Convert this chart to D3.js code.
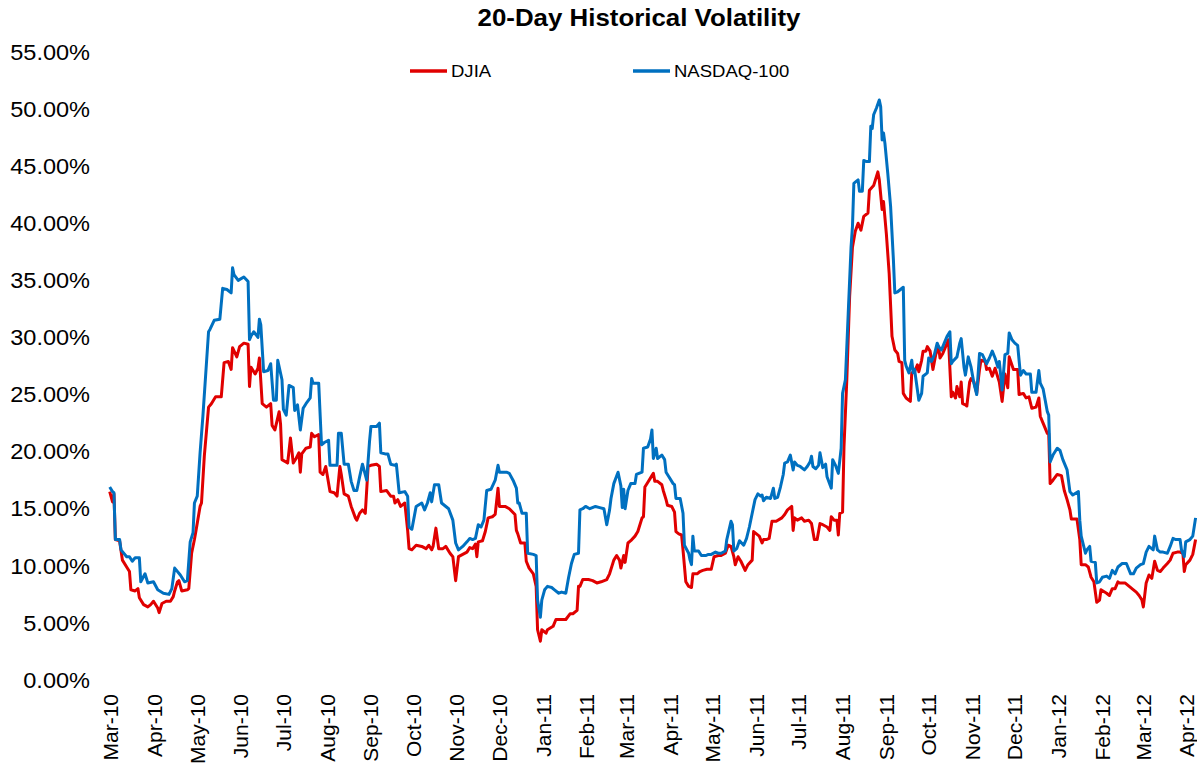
<!DOCTYPE html>
<html>
<head>
<meta charset="utf-8">
<script src="https://cdn.jsdelivr.net/npm/d3@7"></script>
<style>
  body { margin: 0; background: #fff; }
  text { font-family: "Liberation Sans", Arial, sans-serif; fill: #000; }
</style>
</head>
<body>
<svg id="chart" width="1197" height="770"></svg>
<script>
// 20-day historical volatility, in percent
const djia = [
  ["2010-02-28",16.5],["2010-03-02",15.6],["2010-03-03",16.3],["2010-03-04",12.3],["2010-03-07",12.2],["2010-03-09",10.5],
  ["2010-03-12",9.9],["2010-03-14",9.5],["2010-03-15",7.9],["2010-03-18",7.8],["2010-03-20",8.0],["2010-03-21",7.2],
  ["2010-03-24",6.6],["2010-03-27",6.4],["2010-03-29",6.6],["2010-03-31",6.9],["2010-04-03",6.3],["2010-04-04",5.9],
  ["2010-04-06",6.7],["2010-04-09",6.9],["2010-04-12",6.9],["2010-04-14",7.3],["2010-04-15",7.8],["2010-04-17",8.6],
  ["2010-04-18",8.7],["2010-04-20",7.8],["2010-04-24",7.9],["2010-04-25",8.0],["2010-04-27",11.1],["2010-04-29",12.3],
  ["2010-04-30",13.0],["2010-05-03",15.2],["2010-05-04",15.5],["2010-05-06",19.6],["2010-05-09",23.9],["2010-05-11",24.2],
  ["2010-05-14",24.8],["2010-05-18",24.8],["2010-05-20",27.8],["2010-05-23",27.9],["2010-05-25",27.2],["2010-05-26",29.1],
  ["2010-05-29",28.3],["2010-05-31",29.2],["2010-06-03",29.5],["2010-06-06",29.4],["2010-06-07",25.7],["2010-06-08",27.4],
  ["2010-06-11",26.8],["2010-06-13",27.3],["2010-06-14",28.2],["2010-06-16",24.2],["2010-06-19",23.9],["2010-06-22",24.2],
  ["2010-06-23",22.3],["2010-06-25",21.9],["2010-06-28",23.5],["2010-06-29",22.4],["2010-06-30",19.3],["2010-07-04",19.0],
  ["2010-07-06",21.2],["2010-07-08",19.0],["2010-07-10",19.4],["2010-07-12",19.9],["2010-07-13",18.2],["2010-07-14",19.8],
  ["2010-07-17",20.3],["2010-07-20",20.4],["2010-07-21",21.6],["2010-07-23",21.3],["2010-07-26",21.5],["2010-07-27",18.2],
  ["2010-07-29",18.0],["2010-07-31",18.7],["2010-08-03",16.5],["2010-08-06",16.4],["2010-08-08",16.1],["2010-08-10",18.7],
  ["2010-08-11",18.0],["2010-08-13",16.3],["2010-08-16",16.1],["2010-08-18",15.2],["2010-08-21",14.2],["2010-08-22",14.0],
  ["2010-08-24",14.6],["2010-08-26",14.9],["2010-08-28",14.6],["2010-08-30",18.7],["2010-09-01",18.8],["2010-09-05",18.9],
  ["2010-09-07",18.7],["2010-09-08",16.5],["2010-09-12",16.6],["2010-09-15",16.1],["2010-09-17",16.1],["2010-09-18",15.5],
  ["2010-09-20",15.8],["2010-09-22",15.2],["2010-09-25",15.5],["2010-09-27",13.1],["2010-09-28",11.5],["2010-09-30",11.4],
  ["2010-10-03",11.8],["2010-10-07",11.7],["2010-10-10",11.5],["2010-10-12",11.8],["2010-10-14",11.4],["2010-10-15",11.7],
  ["2010-10-17",13.3],["2010-10-19",11.5],["2010-10-22",11.5],["2010-10-24",11.7],["2010-10-27",11.1],["2010-10-29",10.8],
  ["2010-10-31",8.7],["2010-11-02",10.8],["2010-11-05",11.0],["2010-11-08",11.2],["2010-11-10",11.6],["2010-11-12",11.5],
  ["2010-11-14",11.9],["2010-11-15",10.8],["2010-11-16",12.1],["2010-11-19",12.2],["2010-11-21",13.0],["2010-11-23",14.2],
  ["2010-11-26",14.3],["2010-11-28",14.5],["2010-11-30",16.8],["2010-12-01",15.2],["2010-12-05",15.2],["2010-12-08",15.0],
  ["2010-12-12",14.5],["2010-12-13",13.1],["2010-12-14",12.8],["2010-12-16",12.0],["2010-12-19",12.0],["2010-12-20",10.4],
  ["2010-12-22",9.8],["2010-12-25",9.3],["2010-12-27",8.2],["2010-12-28",4.4],["2010-12-30",3.4],["2010-12-31",4.4],
  ["2011-01-03",4.1],["2011-01-04",4.4],["2011-01-08",4.7],["2011-01-10",5.3],["2011-01-14",5.3],["2011-01-17",5.3],
  ["2011-01-20",5.8],["2011-01-22",5.8],["2011-01-25",6.1],["2011-01-26",8.2],["2011-01-27",8.2],["2011-01-29",8.8],
  ["2011-02-02",8.8],["2011-02-05",8.7],["2011-02-08",8.5],["2011-02-11",8.6],["2011-02-15",8.8],["2011-02-17",9.3],
  ["2011-02-20",10.5],["2011-02-22",10.9],["2011-02-24",10.5],["2011-02-25",9.8],["2011-02-27",10.9],["2011-02-28",10.3],
  ["2011-03-02",12.0],["2011-03-04",12.2],["2011-03-07",12.6],["2011-03-09",13.0],["2011-03-12",14.2],["2011-03-13",14.3],
  ["2011-03-14",16.9],["2011-03-16",17.3],["2011-03-19",17.9],["2011-03-20",18.1],["2011-03-21",17.4],["2011-03-23",17.4],
  ["2011-03-26",17.1],["2011-03-27",16.6],["2011-03-29",15.8],["2011-03-30",15.3],["2011-04-02",15.2],["2011-04-04",14.7],
  ["2011-04-05",13.0],["2011-04-07",12.8],["2011-04-09",12.7],["2011-04-10",11.4],["2011-04-12",8.6],["2011-04-14",8.2],
  ["2011-04-16",8.1],["2011-04-17",9.3],["2011-04-20",9.3],["2011-04-22",9.5],["2011-04-24",9.6],["2011-04-27",9.7],
  ["2011-04-30",9.7],["2011-05-02",10.8],["2011-05-05",10.9],["2011-05-07",10.9],["2011-05-10",11.1],["2011-05-12",11.8],
  ["2011-05-14",11.7],["2011-05-16",10.8],["2011-05-17",10.1],["2011-05-19",10.8],["2011-05-21",10.4],["2011-05-24",9.6],
  ["2011-05-26",10.1],["2011-05-29",10.5],["2011-05-30",13.0],["2011-06-01",12.8],["2011-06-03",12.6],["2011-06-05",12.0],
  ["2011-06-06",12.3],["2011-06-08",12.3],["2011-06-10",12.4],["2011-06-12",13.9],["2011-06-15",13.9],["2011-06-19",14.2],
  ["2011-06-21",14.5],["2011-06-23",14.9],["2011-06-26",15.2],["2011-06-27",13.1],["2011-06-28",14.2],["2011-06-30",14.0],
  ["2011-07-03",14.2],["2011-07-05",13.9],["2011-07-08",14.0],["2011-07-10",13.7],["2011-07-12",12.3],["2011-07-14",12.3],
  ["2011-07-16",13.7],["2011-07-18",13.6],["2011-07-21",13.4],["2011-07-23",13.1],["2011-07-24",14.3],["2011-07-26",14.0],
  ["2011-07-28",14.0],["2011-07-29",12.7],["2011-07-30",14.6],["2011-08-01",14.7],["2011-08-02",20.4],["2011-08-04",26.3],
  ["2011-08-06",33.6],["2011-08-08",37.9],["2011-08-10",39.3],["2011-08-12",40.0],["2011-08-14",39.4],["2011-08-16",40.6],
  ["2011-08-19",40.9],["2011-08-20",42.9],["2011-08-23",43.3],["2011-08-25",44.1],["2011-08-26",44.5],["2011-08-27",43.8],
  ["2011-08-29",41.2],["2011-08-30",41.9],["2011-09-01",39.1],["2011-09-03",35.6],["2011-09-05",30.1],["2011-09-07",28.9],
  ["2011-09-09",28.6],["2011-09-10",27.9],["2011-09-12",27.8],["2011-09-13",25.1],["2011-09-15",24.7],["2011-09-18",24.4],
  ["2011-09-19",26.9],["2011-09-21",27.0],["2011-09-23",27.6],["2011-09-24",27.0],["2011-09-26",28.0],["2011-09-27",28.8],
  ["2011-09-29",28.8],["2011-09-30",29.2],["2011-10-02",28.8],["2011-10-04",27.2],["2011-10-06",28.5],["2011-10-08",29.2],
  ["2011-10-09",28.2],["2011-10-11",28.6],["2011-10-14",29.5],["2011-10-15",29.8],["2011-10-17",24.8],["2011-10-18",25.2],
  ["2011-10-20",24.7],["2011-10-21",25.7],["2011-10-23",24.8],["2011-10-24",26.1],["2011-10-25",24.2],["2011-10-27",24.1],
  ["2011-10-28",24.0],["2011-10-30",26.1],["2011-10-31",26.4],["2011-11-02",26.1],["2011-11-04",25.1],["2011-11-06",27.2],
  ["2011-11-07",28.0],["2011-11-10",27.9],["2011-11-11",27.2],["2011-11-13",27.3],["2011-11-15",26.6],["2011-11-17",27.3],
  ["2011-11-18",26.9],["2011-11-20",26.1],["2011-11-22",24.4],["2011-11-24",26.8],["2011-11-26",25.6],["2011-11-27",28.3],
  ["2011-11-30",27.2],["2011-12-03",27.2],["2011-12-04",25.0],["2011-12-07",25.1],["2011-12-09",24.7],["2011-12-11",24.8],
  ["2011-12-13",23.8],["2011-12-16",23.9],["2011-12-18",24.7],["2011-12-19",23.1],["2011-12-21",22.5],["2011-12-24",21.6],
  ["2011-12-25",21.6],["2011-12-26",17.2],["2011-12-28",17.5],["2011-12-31",18.0],["2012-01-03",17.9],["2012-01-05",16.6],
  ["2012-01-07",15.8],["2012-01-09",14.9],["2012-01-10",14.1],["2012-01-14",14.1],["2012-01-16",12.3],["2012-01-17",10.1],
  ["2012-01-20",10.1],["2012-01-22",9.9],["2012-01-24",9.0],["2012-01-26",8.6],["2012-01-28",6.8],["2012-01-30",7.0],
  ["2012-01-31",7.9],["2012-02-04",7.6],["2012-02-06",7.4],["2012-02-08",8.0],["2012-02-10",8.0],["2012-02-12",8.6],
  ["2012-02-13",8.5],["2012-02-17",8.5],["2012-02-20",8.2],["2012-02-23",7.9],["2012-02-25",7.7],["2012-02-27",7.4],
  ["2012-02-29",7.0],["2012-03-01",6.4],["2012-03-03",8.5],["2012-03-05",9.2],["2012-03-07",8.9],["2012-03-09",10.4],
  ["2012-03-11",9.6],["2012-03-13",9.5],["2012-03-15",9.8],["2012-03-18",10.2],["2012-03-20",10.5],["2012-03-22",11.1],
  ["2012-03-25",11.2],["2012-03-27",11.2],["2012-03-29",11.1],["2012-03-30",9.5],["2012-03-31",10.1],["2012-04-03",10.5],
  ["2012-04-05",11.0],["2012-04-07",12.3]
];

const nasdaq100 = [
  ["2010-02-28",16.9],["2010-03-02",16.5],["2010-03-03",16.4],["2010-03-04",12.3],["2010-03-07",12.3],["2010-03-08",11.4],
  ["2010-03-12",10.8],["2010-03-14",10.8],["2010-03-16",10.4],["2010-03-18",10.7],["2010-03-21",10.7],["2010-03-22",8.6],
  ["2010-03-25",9.3],["2010-03-27",8.5],["2010-03-31",8.6],["2010-04-03",7.9],["2010-04-07",7.6],["2010-04-11",7.5],
  ["2010-04-13",8.0],["2010-04-15",9.8],["2010-04-19",9.2],["2010-04-22",8.6],["2010-04-24",8.7],["2010-04-26",12.1],
  ["2010-04-28",12.9],["2010-04-29",15.5],["2010-05-01",16.1],["2010-05-03",19.9],["2010-05-05",23.1],["2010-05-09",30.5],
  ["2010-05-10",30.7],["2010-05-13",31.5],["2010-05-17",31.6],["2010-05-19",34.3],["2010-05-22",34.2],["2010-05-25",33.9],
  ["2010-05-26",36.1],["2010-05-27",35.5],["2010-05-30",35.0],["2010-06-03",35.3],["2010-06-06",34.9],["2010-06-07",29.8],
  ["2010-06-08",30.1],["2010-06-10",30.5],["2010-06-13",30.0],["2010-06-14",31.6],["2010-06-15",31.1],["2010-06-17",27.0],
  ["2010-06-20",27.1],["2010-06-22",27.7],["2010-06-24",24.5],["2010-06-26",24.5],["2010-06-27",28.0],["2010-06-30",26.3],
  ["2010-07-01",23.7],["2010-07-03",23.2],["2010-07-05",25.8],["2010-07-08",25.6],["2010-07-09",23.6],["2010-07-11",24.1],
  ["2010-07-13",21.9],["2010-07-15",23.8],["2010-07-17",24.2],["2010-07-20",24.7],["2010-07-21",26.4],["2010-07-22",26.0],
  ["2010-07-26",26.0],["2010-07-28",20.6],["2010-07-30",20.8],["2010-08-02",21.0],["2010-08-03",18.8],["2010-08-08",18.8],
  ["2010-08-09",21.6],["2010-08-11",21.6],["2010-08-13",18.9],["2010-08-16",18.9],["2010-08-18",17.4],["2010-08-20",16.6],
  ["2010-08-22",16.6],["2010-08-24",17.8],["2010-08-26",18.9],["2010-08-29",17.5],["2010-08-31",20.9],["2010-09-01",22.2],
  ["2010-09-05",22.2],["2010-09-07",22.5],["2010-09-08",19.9],["2010-09-11",19.8],["2010-09-13",19.8],["2010-09-15",18.9],
  ["2010-09-18",18.8],["2010-09-19",18.9],["2010-09-21",16.4],["2010-09-25",16.5],["2010-09-27",16.1],["2010-09-28",13.4],
  ["2010-09-30",13.2],["2010-10-03",15.2],["2010-10-07",15.5],["2010-10-09",14.9],["2010-10-11",15.5],["2010-10-13",16.4],
  ["2010-10-14",15.6],["2010-10-16",17.1],["2010-10-19",17.1],["2010-10-21",15.5],["2010-10-26",15.0],["2010-10-29",14.0],
  ["2010-10-31",12.0],["2010-11-02",11.4],["2010-11-05",11.7],["2010-11-08",12.1],["2010-11-10",12.4],["2010-11-12",12.3],
  ["2010-11-14",12.4],["2010-11-16",13.6],["2010-11-18",13.4],["2010-11-20",14.0],["2010-11-22",16.6],["2010-11-25",16.7],
  ["2010-11-28",17.5],["2010-11-30",18.8],["2010-12-01",18.2],["2010-12-06",18.2],["2010-12-08",18.1],["2010-12-11",17.4],
  ["2010-12-13",16.8],["2010-12-14",15.5],["2010-12-15",15.5],["2010-12-17",14.6],["2010-12-20",14.6],["2010-12-21",11.1],
  ["2010-12-25",11.0],["2010-12-27",10.9],["2010-12-28",7.0],["2010-12-30",5.5],["2010-12-31",7.0],["2011-01-02",7.9],
  ["2011-01-04",8.2],["2011-01-07",8.1],["2011-01-09",7.9],["2011-01-12",7.6],["2011-01-14",7.7],["2011-01-17",7.6],
  ["2011-01-19",9.0],["2011-01-21",10.2],["2011-01-23",11.0],["2011-01-26",11.1],["2011-01-27",14.9],["2011-01-29",15.0],
  ["2011-01-31",15.2],["2011-02-03",15.0],["2011-02-07",15.2],["2011-02-10",15.1],["2011-02-13",15.0],["2011-02-15",13.6],
  ["2011-02-17",14.9],["2011-02-18",15.9],["2011-02-20",17.2],["2011-02-23",18.2],["2011-02-25",17.0],["2011-02-26",15.1],
  ["2011-02-27",16.7],["2011-02-28",15.0],["2011-03-02",16.6],["2011-03-04",17.2],["2011-03-07",17.2],["2011-03-08",18.0],
  ["2011-03-12",18.2],["2011-03-13",20.3],["2011-03-16",20.4],["2011-03-18",21.1],["2011-03-19",21.9],["2011-03-20",19.4],
  ["2011-03-22",20.3],["2011-03-23",19.4],["2011-03-26",19.7],["2011-03-28",19.3],["2011-03-29",18.2],["2011-03-31",17.8],
  ["2011-04-03",17.2],["2011-04-04",17.1],["2011-04-05",15.9],["2011-04-08",15.9],["2011-04-10",14.6],["2011-04-11",11.8],
  ["2011-04-14",11.1],["2011-04-15",10.5],["2011-04-16",10.1],["2011-04-17",12.6],["2011-04-18",11.3],["2011-04-21",11.3],
  ["2011-04-23",10.9],["2011-04-26",10.9],["2011-04-28",11.0],["2011-04-30",11.0],["2011-05-03",11.2],["2011-05-05",11.1],
  ["2011-05-07",11.1],["2011-05-10",11.3],["2011-05-11",12.3],["2011-05-14",13.9],["2011-05-15",13.6],["2011-05-16",11.3],
  ["2011-05-18",11.5],["2011-05-20",12.2],["2011-05-23",11.8],["2011-05-25",12.4],["2011-05-27",13.4],["2011-05-29",14.6],
  ["2011-05-31",15.8],["2011-06-02",16.3],["2011-06-04",16.1],["2011-06-05",16.2],["2011-06-06",15.7],["2011-06-08",16.0],
  ["2011-06-11",15.9],["2011-06-13",16.8],["2011-06-14",15.9],["2011-06-16",16.0],["2011-06-18",16.9],["2011-06-20",18.0],
  ["2011-06-21",19.0],["2011-06-23",19.1],["2011-06-25",19.7],["2011-06-27",18.4],["2011-06-28",19.1],["2011-06-30",18.8],
  ["2011-07-02",18.7],["2011-07-05",18.4],["2011-07-07",18.7],["2011-07-09",19.1],["2011-07-10",19.6],["2011-07-11",18.7],
  ["2011-07-13",18.5],["2011-07-15",18.8],["2011-07-16",19.9],["2011-07-18",18.6],["2011-07-20",18.9],["2011-07-21",17.8],
  ["2011-07-24",16.8],["2011-07-25",19.3],["2011-07-27",18.8],["2011-07-29",18.1],["2011-07-31",20.3],["2011-08-01",25.1],
  ["2011-08-03",26.3],["2011-08-05",32.1],["2011-08-07",37.9],["2011-08-08",39.7],["2011-08-09",43.5],["2011-08-10",43.6],
  ["2011-08-12",43.8],["2011-08-13",42.8],["2011-08-15",42.8],["2011-08-16",45.5],["2011-08-18",45.4],["2011-08-20",45.4],
  ["2011-08-21",48.5],["2011-08-22",48.3],["2011-08-23",49.5],["2011-08-25",50.1],["2011-08-27",50.8],["2011-08-28",50.2],
  ["2011-08-29",47.3],["2011-08-30",47.9],["2011-08-31",47.0],["2011-09-02",44.4],["2011-09-04",41.5],["2011-09-06",36.8],
  ["2011-09-07",33.9],["2011-09-09",34.0],["2011-09-13",34.4],["2011-09-14",28.0],["2011-09-15",27.5],["2011-09-17",26.9],
  ["2011-09-19",28.0],["2011-09-20",26.9],["2011-09-21",27.2],["2011-09-24",24.5],["2011-09-26",25.1],["2011-09-27",26.6],
  ["2011-09-30",26.9],["2011-10-01",28.2],["2011-10-03",27.9],["2011-10-05",28.5],["2011-10-07",29.5],["2011-10-08",29.2],
  ["2011-10-10",28.9],["2011-10-12",29.5],["2011-10-14",30.1],["2011-10-16",30.5],["2011-10-17",27.7],["2011-10-18",27.9],
  ["2011-10-21",28.3],["2011-10-23",29.5],["2011-10-24",29.9],["2011-10-26",27.4],["2011-10-27",26.7],["2011-10-29",28.3],
  ["2011-10-31",27.4],["2011-11-02",26.0],["2011-11-04",25.0],["2011-11-06",28.6],["2011-11-08",28.5],["2011-11-11",27.7],
  ["2011-11-13",28.2],["2011-11-15",28.8],["2011-11-17",28.2],["2011-11-19",27.4],["2011-11-20",27.9],["2011-11-22",25.4],
  ["2011-11-24",28.5],["2011-11-26",28.6],["2011-11-27",30.4],["2011-11-29",29.8],["2011-12-01",29.5],["2011-12-03",29.3],
  ["2011-12-05",26.7],["2011-12-07",27.1],["2011-12-09",26.8],["2011-12-12",26.8],["2011-12-13",25.2],["2011-12-16",25.2],
  ["2011-12-18",27.1],["2011-12-19",26.0],["2011-12-21",25.5],["2011-12-24",23.5],["2011-12-25",23.2],["2011-12-26",19.1],
  ["2011-12-28",19.7],["2011-12-31",20.3],["2012-01-02",20.1],["2012-01-04",19.3],["2012-01-07",18.4],["2012-01-09",16.5],
  ["2012-01-11",16.2],["2012-01-15",16.5],["2012-01-16",14.0],["2012-01-17",12.6],["2012-01-20",11.1],["2012-01-21",11.4],
  ["2012-01-23",11.7],["2012-01-24",10.4],["2012-01-27",10.3],["2012-01-28",8.5],["2012-01-30",8.6],["2012-02-01",9.0],
  ["2012-02-04",9.1],["2012-02-06",8.9],["2012-02-08",9.6],["2012-02-10",9.3],["2012-02-12",9.9],["2012-02-15",10.2],
  ["2012-02-18",10.2],["2012-02-21",9.3],["2012-02-23",9.3],["2012-02-25",9.8],["2012-02-28",10.1],["2012-03-01",10.2],
  ["2012-03-03",11.2],["2012-03-05",11.7],["2012-03-08",11.4],["2012-03-09",12.6],["2012-03-11",11.4],["2012-03-13",11.2],
  ["2012-03-15",11.2],["2012-03-18",11.1],["2012-03-20",11.7],["2012-03-22",12.4],["2012-03-24",12.3],["2012-03-27",12.3],
  ["2012-03-28",11.4],["2012-03-30",10.8],["2012-03-31",12.1],["2012-04-03",12.3],["2012-04-05",12.6],["2012-04-07",14.2]
];

const monthLabels = ["Mar-10","Apr-10","May-10","Jun-10","Jul-10","Aug-10","Sep-10","Oct-10","Nov-10","Dec-10",
  "Jan-11","Feb-11","Mar-11","Apr-11","May-11","Jun-11","Jul-11","Aug-11","Sep-11","Oct-11","Nov-11","Dec-11",
  "Jan-12","Feb-12","Mar-12","Apr-12"];
const yTicks = [0, 5, 10, 15, 20, 25, 30, 35, 40, 45, 50, 55];
const seriesNames = ["DJIA", "NASDAQ-100"];
const seriesColors = ["#E00000", "#0070C0"];
const chartTitle = "20-Day Historical Volatility";

const svg = d3.select("#chart");
const parseDay = d3.timeParse("%Y-%m-%d");
const parseMonth = d3.timeParse("%b-%y");

let plot = {left: 97, right: 1197, top: 52, bottom: 680};

let x = d3.scaleTime()
    .domain([parseDay("2010-02-19"), parseDay("2012-04-08")])
    .range([plot.left, plot.right]);

let y = d3.scaleLinear()
    .domain([0, 55])
    .range([plot.bottom, plot.top]);

// the source picture is a bit wider than tall, so text gets a small horizontal stretch
svg.append("text")
    .attr("transform", "translate(639,26) scale(1.125,1)")
    .attr("text-anchor", "middle")
    .style("font-size", "23px")
    .style("font-weight", "bold")
    .text(chartTitle);

// y labels (no axis line in the original)
svg.append("g")
    .selectAll("text")
    .data(yTicks)
    .enter()
    .append("text")
    .attr("transform", d => `translate(90,${y(d)}) scale(1.07,1)`)
    .attr("dy", "0.35em")
    .attr("text-anchor", "end")
    .style("font-size", "22px")
    .text(d => d.toFixed(2) + "%");

// x labels, rotated
svg.append("g")
    .selectAll("text")
    .data(monthLabels)
    .enter()
    .append("text")
    .attr("transform", d => `translate(${x(parseMonth(d))},694) rotate(-90)`)
    .attr("dy", "0.35em")
    .attr("text-anchor", "end")
    .style("font-size", "21px")
    .text(d => d);

// lines
let line = d3.line()
    .x(d => x(parseDay(d[0])))
    .y(d => y(d[1]));

[djia, nasdaq100].forEach(function (series, i) {
    svg.append("path")
        .datum(series)
        .attr("d", line)
        .attr("fill", "none")
        .attr("stroke", seriesColors[i])
        .attr("stroke-width", 3)
        .attr("stroke-linejoin", "round");
});

// legend
let legendX = [410, 633];
let legend = svg.append("g").selectAll("g")
    .data(seriesNames)
    .enter()
    .append("g")
    .attr("transform", (d, i) => `translate(${legendX[i]},71)`);

legend.append("line")
    .attr("x1", 0).attr("x2", 37)
    .attr("stroke", (d, i) => seriesColors[i])
    .attr("stroke-width", 3.5);

legend.append("text")
    .attr("transform", "translate(41,0) scale(1.09,1)")
    .attr("dy", "0.35em")
    .style("font-size", "17px")
    .text(d => d);
</script>
</body>
</html>
